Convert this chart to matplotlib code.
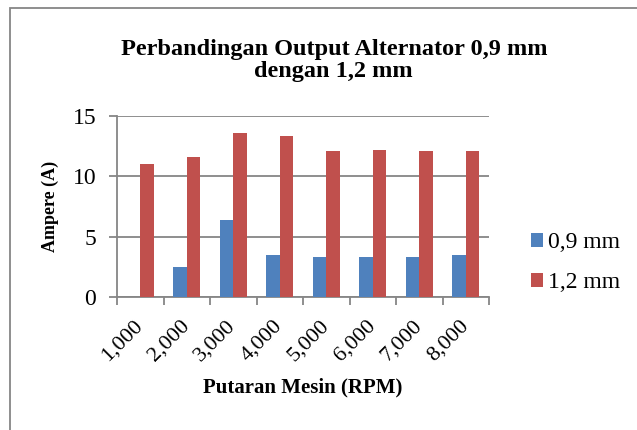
import numpy as np
import matplotlib.pyplot as plt
import matplotlib.transforms as mtransforms
from matplotlib.patches import Rectangle

rpm = ['1,000', '2,000', '3,000', '4,000', '5,000', '6,000', '7,000', '8,000']
arus_09 = [0.05, 2.52, 6.36, 3.52, 3.35, 3.3, 3.35, 3.46]
arus_12 = [11.07, 11.57, 13.64, 13.36, 12.07, 12.15, 12.07, 12.07]

plt.rcParams['font.family'] = ['Liberation Serif', 'DejaVu Serif']

fig = plt.figure(figsize=(6.37, 4.3), dpi=100)
ax = fig.add_axes([0.1837, 0.309, 0.584, 0.421])

x = np.arange(len(rpm))
w = 0.29
ax.bar(x - w/2, arus_09, w, color='#4f81bd', label='0,9 mm', zorder=3)
ax.bar(x + w/2, arus_12, w, color='#c0504d', label='1,2 mm', zorder=3)

ax.set_xlim(-0.5, len(rpm) - 0.5)
ax.set_ylim(0, 15)
ax.set_yticks([0, 5, 10, 15])
ax.yaxis.grid(True, color='#868686', linewidth=1.3, zorder=0)
ax.set_xticks(np.arange(-0.5, len(rpm), 1))
ax.set_xticklabels([])
ax.set_xticks(x, minor=True)
ax.set_xticklabels(rpm, minor=True, rotation=45, ha='right', rotation_mode='anchor', fontsize=16)
ax.tick_params(axis='x', which='minor', length=0, pad=14)
ax.tick_params(axis='x', which='major', length=6, color='#868686', width=1.3)
ax.tick_params(axis='y', length=6, color='#868686', width=1.3, labelsize=17, pad=9)
shift = mtransforms.ScaledTranslation(-7/100, 0, fig.dpi_scale_trans)
for lbl in ax.get_xticklabels(minor=True):
    lbl.set_transform(lbl.get_transform() + shift)

for s in ['top', 'right']:
    ax.spines[s].set_visible(False)
for s in ['left', 'bottom']:
    ax.spines[s].set_color('#868686')
    ax.spines[s].set_linewidth(1.3)

ax.set_ylabel('Ampere (A)', fontsize=13, fontweight='bold', labelpad=10)
ax.set_xlabel('Putaran Mesin (RPM)', fontsize=15, fontweight='bold', labelpad=9)
fig.text(0.524, 0.859, 'Perbandingan Output Alternator 0,9 mm\ndengan 1,2 mm',
         ha='center', va='center', fontsize=17.5, fontweight='bold', linespacing=1.1)

ax.legend(loc='center left', bbox_to_anchor=(1.113, 0.19), frameon=False, fontsize=17,
          handlelength=0.5, handleheight=0.5, handletextpad=0.2, labelspacing=0.8,
          borderaxespad=0, borderpad=0)

fig.patches.append(Rectangle((10/637, -0.1), 1.2, 1 - 8/430 + 0.1, transform=fig.transFigure,
                             fill=False, edgecolor='#868686', linewidth=1.3))

fig.savefig('out.png', dpi=100)
